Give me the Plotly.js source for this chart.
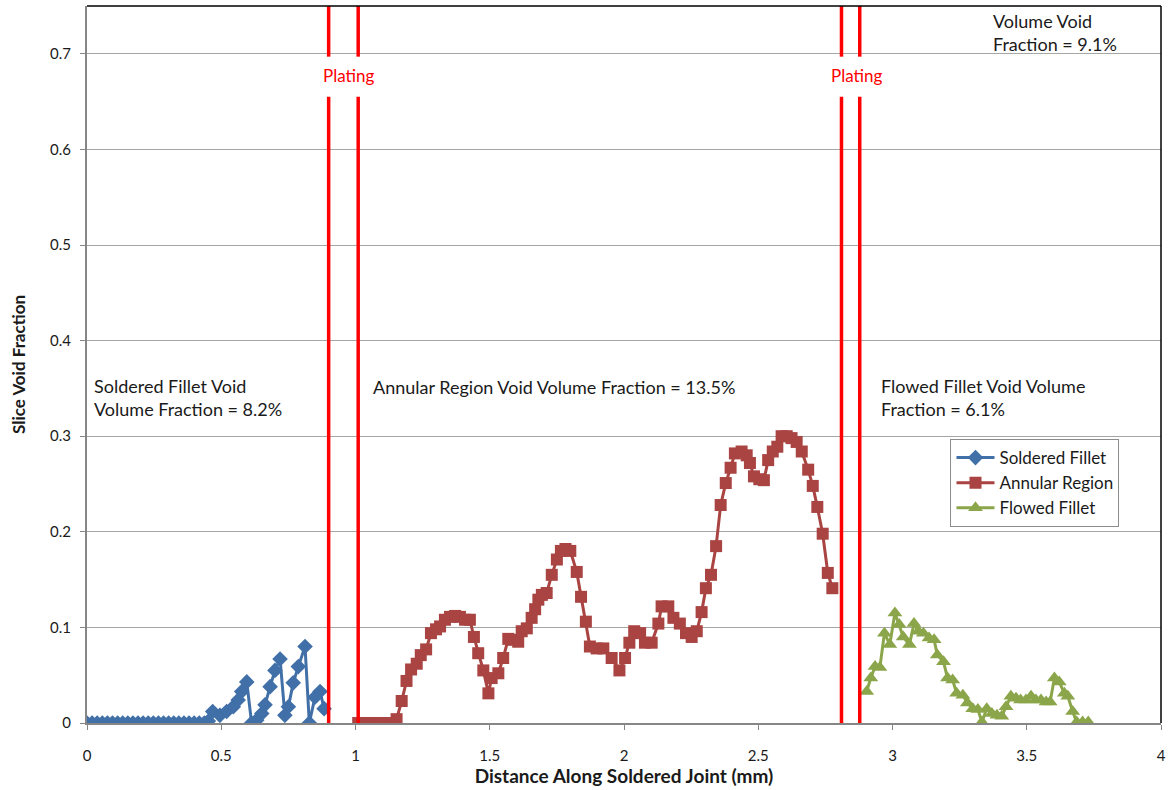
<!DOCTYPE html>
<html>
<head>
<meta charset="utf-8">
<script src="https://cdn.plot.ly/plotly-3.0.1.min.js"></script>
<style>
  html, body { margin: 0; padding: 0; background: #fff; }
  #chart { width: 1169px; height: 790px; }
</style>
</head>
<body>
<div id="chart"></div>
<script>
// Slice void fraction measured along the soldered joint (mm)
const solderedX = [0, 0.019, 0.038, 0.057, 0.076, 0.095, 0.114, 0.133, 0.152, 0.171, 0.19, 0.209,
  0.228, 0.247, 0.266, 0.285, 0.304, 0.323, 0.342, 0.361, 0.38, 0.399, 0.418, 0.437, 0.452,
  0.468, 0.495, 0.52, 0.545, 0.563, 0.576, 0.595, 0.613, 0.632, 0.651, 0.663, 0.682, 0.70,
  0.719, 0.737, 0.75, 0.768, 0.787, 0.812, 0.828, 0.849, 0.868, 0.883];
const solderedY = [0, 0, 0, 0, 0, 0, 0, 0, 0, 0, 0, 0,
  0, 0, 0, 0, 0, 0, 0, 0, 0, 0, 0, 0, 0.002,
  0.012, 0.008, 0.012, 0.017, 0.024, 0.033, 0.043, 0, 0.003, 0.010, 0.019, 0.038, 0.055,
  0.067, 0.008, 0.017, 0.042, 0.059, 0.080, 0, 0.027, 0.033, 0.015];

const annularX = [1.01, 1.03, 1.06, 1.09, 1.12, 1.153, 1.172, 1.19, 1.207, 1.228, 1.243, 1.263,
  1.281, 1.30, 1.315, 1.333, 1.352, 1.371, 1.389, 1.408, 1.426, 1.441, 1.457, 1.476, 1.495,
  1.507, 1.532, 1.55, 1.569, 1.588, 1.606, 1.619, 1.638, 1.656, 1.669, 1.681, 1.694, 1.712,
  1.731, 1.75, 1.765, 1.782, 1.80, 1.824, 1.84, 1.858, 1.873, 1.898, 1.923, 1.954, 1.983,
  2.004, 2.02, 2.038, 2.06, 2.078, 2.103, 2.128, 2.14, 2.165, 2.184, 2.208, 2.231, 2.252,
  2.271, 2.289, 2.305, 2.324, 2.343, 2.36, 2.379, 2.397, 2.413, 2.438, 2.457, 2.469, 2.484,
  2.504, 2.521, 2.537, 2.554, 2.571, 2.587, 2.606, 2.624, 2.643, 2.662, 2.686, 2.703, 2.72,
  2.74, 2.759, 2.776];
const annularY = [0, 0, 0, 0, 0, 0.004, 0.023, 0.044, 0.056, 0.062, 0.071, 0.077,
  0.094, 0.098, 0.101, 0.108, 0.111, 0.112, 0.111, 0.108, 0.108, 0.090, 0.073, 0.055, 0.031,
  0.047, 0.052, 0.068, 0.088, 0.087, 0.085, 0.096, 0.099, 0.110, 0.119, 0.129, 0.134, 0.136,
  0.155, 0.171, 0.180, 0.182, 0.180, 0.158, 0.132, 0.106, 0.080, 0.078, 0.078, 0.068, 0.055,
  0.068, 0.084, 0.096, 0.094, 0.084, 0.084, 0.104, 0.122, 0.122, 0.110, 0.104, 0.094, 0.090,
  0.096, 0.116, 0.141, 0.155, 0.185, 0.228, 0.251, 0.267, 0.282, 0.284, 0.280, 0.272, 0.258,
  0.255, 0.254, 0.275, 0.284, 0.289, 0.300, 0.300, 0.298, 0.294, 0.284, 0.265, 0.248, 0.226,
  0.198, 0.157, 0.141];

const flowedX = [2.904, 2.919, 2.935, 2.953, 2.97, 2.99, 3.009, 3.025, 3.04, 3.063, 3.08, 3.096,
  3.115, 3.136, 3.155, 3.167, 3.19, 3.205, 3.224, 3.239, 3.262, 3.279, 3.299, 3.318, 3.333,
  3.351, 3.37, 3.389, 3.407, 3.423, 3.441, 3.46, 3.477, 3.497, 3.516, 3.534, 3.553, 3.572,
  3.587, 3.603, 3.621, 3.64, 3.653, 3.671, 3.686, 3.708, 3.729];
const flowedY = [0.033, 0.047, 0.059, 0.058, 0.094, 0.082, 0.115, 0.103, 0.090, 0.082, 0.104, 0.096,
  0.094, 0.089, 0.087, 0.071, 0.064, 0.047, 0.045, 0.031, 0.029, 0.021, 0.015, 0.014, 0.001,
  0.015, 0.010, 0.008, 0.007, 0.017, 0.028, 0.026, 0.024, 0.024, 0.028, 0.024, 0.024, 0.022,
  0.022, 0.047, 0.043, 0.031, 0.028, 0.012, 0.001, 0.001, 0.001];

// Plating boundaries (mm)
const platingBounds = [0.90, 1.01, 2.81, 2.878];
const platingLabelX = [0.973, 2.866];

const xTickVals = [0, 0.5, 1, 1.5, 2, 2.5, 3, 3.5, 4];
const xTickText = ['0', '0.5', '1', '1.5', '2', '2.5', '3', '3.5', '4'];
const yTickVals = [0, 0.1, 0.2, 0.3, 0.4, 0.5, 0.6, 0.7];
const yTickText = ['0', '0.1', '0.2', '0.3', '0.4', '0.5', '0.6', '0.7'];

const FONT = 'Lato, "Open Sans", sans-serif';
const C_BLUE = '#4170A8';
const C_RED = '#A94442';
const C_GREEN = '#8BA64A';

const traces = [
  { x: solderedX, y: solderedY, name: 'Soldered Fillet', mode: 'lines+markers', type: 'scatter',
    line: { color: C_BLUE, width: 3 }, marker: { symbol: 'diamond', size: 12, color: C_BLUE } },
  { x: annularX, y: annularY, name: 'Annular Region', mode: 'lines+markers', type: 'scatter',
    line: { color: C_RED, width: 3 }, marker: { symbol: 'square', size: 12, color: C_RED } },
  { x: flowedX, y: flowedY, name: 'Flowed Fillet', mode: 'lines+markers', type: 'scatter',
    line: { color: C_GREEN, width: 3 }, marker: { symbol: 'triangle-up', size: 13, color: C_GREEN } }
];

// Red plating lines, broken around the "Plating" labels
const gapLow = 0.655, gapHigh = 0.697;
const shapes = [];
platingBounds.forEach(b => {
  shapes.push({ type: 'line', xref: 'x', yref: 'y', x0: b, x1: b, y0: 0, y1: gapLow,
    line: { color: '#FF0000', width: 3.5 }, layer: 'above' });
  shapes.push({ type: 'line', xref: 'x', yref: 'y', x0: b, x1: b, y0: gapHigh, y1: 0.75,
    line: { color: '#FF0000', width: 3.5 }, layer: 'above' });
});
// Frame on the top and right of the plot area
shapes.push({ type: 'line', xref: 'paper', yref: 'paper', x0: 0, x1: 1, y0: 1, y1: 1,
  line: { color: '#000', width: 1.5 }, layer: 'above' });
shapes.push({ type: 'line', xref: 'paper', yref: 'paper', x0: 1, x1: 1, y0: 0, y1: 1,
  line: { color: '#000', width: 1.5 }, layer: 'above' });

const noteFont = { family: FONT, size: 18, color: '#1a1a1a' };
const annotations = [
  { x: 0.018, y: 0.341, xref: 'x', yref: 'y', xanchor: 'left', yanchor: 'middle', align: 'left',
    showarrow: false, text: 'Soldered Fillet Void<br>Volume Fraction = 8.2%', font: noteFont },
  { x: 1.058, y: 0.351, xref: 'x', yref: 'y', xanchor: 'left', yanchor: 'middle', align: 'left',
    showarrow: false, text: 'Annular Region Void Volume Fraction = 13.5%', font: noteFont },
  { x: 2.948, y: 0.340, xref: 'x', yref: 'y', xanchor: 'left', yanchor: 'middle', align: 'left',
    showarrow: false, text: 'Flowed Fillet Void Volume<br>Fraction = 6.1%', font: noteFont },
  { x: 3.368, y: 0.722, xref: 'x', yref: 'y', xanchor: 'left', yanchor: 'middle', align: 'left',
    showarrow: false, text: 'Volume Void<br>Fraction = 9.1%', font: noteFont },
  { x: platingLabelX[0], y: 0.677, xref: 'x', yref: 'y', xanchor: 'center', yanchor: 'middle',
    showarrow: false, text: 'Plating', font: { family: FONT, size: 17, color: '#FF0000' } },
  { x: platingLabelX[1], y: 0.677, xref: 'x', yref: 'y', xanchor: 'center', yanchor: 'middle',
    showarrow: false, text: 'Plating', font: { family: FONT, size: 17, color: '#FF0000' } }
];

const layout = {
  width: 1169, height: 790,
  margin: { l: 87, r: 8, t: 6, b: 67, pad: 0 },
  paper_bgcolor: '#fff', plot_bgcolor: '#fff',
  font: { family: FONT, size: 14, color: '#1a1a1a' },
  showlegend: true,
  legend: {
    x: 0.804, y: 0.396, xanchor: 'left', yanchor: 'top',
    bgcolor: '#fff', bordercolor: '#8c8c8c', borderwidth: 1,
    font: { family: FONT, size: 17, color: '#1a1a1a' },
    tracegroupgap: 0, itemwidth: 38
  },
  xaxis: {
    range: [0, 4], tickvals: xTickVals, ticktext: xTickText,
    showgrid: false, zeroline: false,
    showline: true, linecolor: '#868686', linewidth: 2,
    ticks: 'outside', ticklen: 5, tickcolor: '#868686', tickwidth: 1,
    ticklabelstandoff: 13,
    tickfont: { family: FONT, size: 15, color: '#1a1a1a' },
    title: { text: '<b>Distance Along Soldered Joint (mm)</b>', standoff: 4,
      font: { family: FONT, size: 19, color: '#1a1a1a' } },
    fixedrange: true
  },
  yaxis: {
    range: [0, 0.75], tickvals: yTickVals, ticktext: yTickText,
    showgrid: true, gridcolor: '#a6a6a6', gridwidth: 1, zeroline: false,
    showline: true, linecolor: '#868686', linewidth: 2,
    ticks: 'outside', ticklen: 5, tickcolor: '#868686', tickwidth: 1,
    ticklabelstandoff: 6,
    tickfont: { family: FONT, size: 15, color: '#1a1a1a' },
    title: { text: '<b>Slice Void Fraction</b>', standoff: 20,
      font: { family: FONT, size: 17, color: '#1a1a1a' } },
    fixedrange: true
  },
  shapes: shapes,
  annotations: annotations
};

Plotly.newPlot('chart', traces, layout, { displayModeBar: false, staticPlot: true });
</script>
</body>
</html>
